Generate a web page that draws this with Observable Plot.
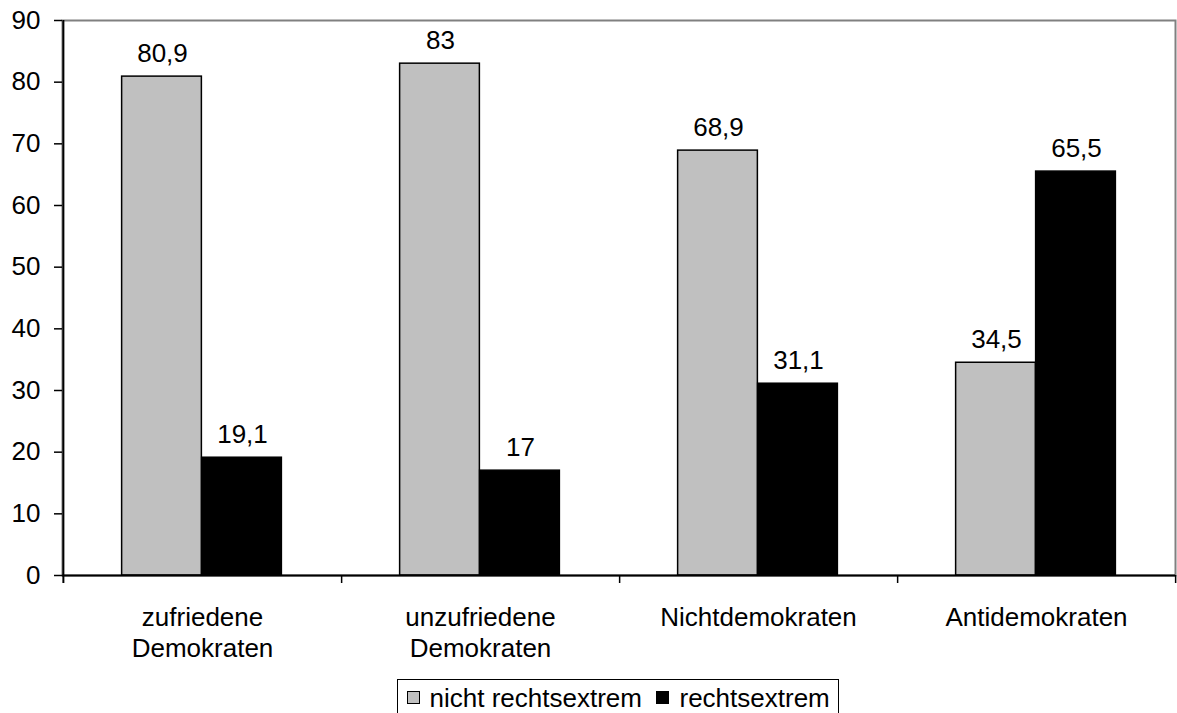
<!DOCTYPE html>
<html>
<head>
<meta charset="utf-8">
<script src="https://cdn.jsdelivr.net/npm/d3@7"></script>
<script src="https://cdn.jsdelivr.net/npm/@observablehq/plot@0.6"></script>
<style>
  html, body { margin: 0; padding: 0; background: #fff; }
  #wrap { position: relative; width: 1177px; height: 713px; overflow: hidden; font-family: "Liberation Sans", Arial, sans-serif; color: #000; }
  #wrap svg { display: block; }
  #legend { position: absolute; left: 397px; top: 679px; width: 442px; height: 60px; border: 1.5px solid #000; box-sizing: border-box; background: #fff; }
  #legend .sw { position: absolute; width: 13px; height: 13px; box-sizing: border-box; border: 1px solid #000; top: 11px; }
  #legend .lb { position: absolute; top: 8px; font-size: 26px; line-height: 20px; white-space: nowrap; }
</style>
</head>
<body>
<div id="wrap"></div>
<script>
// ---- data ----
const categories = ["zufriedene\nDemokraten", "unzufriedene\nDemokraten", "Nichtdemokraten", "Antidemokraten"];
const series = ["nicht rechtsextrem", "rechtsextrem"];
const nichtRechtsextrem = [80.9, 83, 68.9, 34.5];
const rechtsextrem = [19.1, 17, 31.1, 65.5];
const yTicks = [0, 10, 20, 30, 40, 50, 60, 70, 80, 90];
const seriesColors = ["#C0C0C0", "#000000"];

const rows = [];
categories.forEach((c, i) => {
  rows.push({category: c, series: series[0], value: nichtRechtsextrem[i]});
  rows.push({category: c, series: series[1], value: rechtsextrem[i]});
});
const fmt = v => String(v).replace(".", ",");
const half = 1113 / 8; // half band width in px (plot width 1113 / 4 bands / 2)
const barW = 80;

const chart = Plot.plot({
  width: 1177,
  height: 670,
  marginLeft: 62,
  marginRight: 2,
  marginTop: 20,
  marginBottom: 95,
  style: {fontFamily: "'Liberation Sans', Arial, sans-serif", fontSize: "26px", color: "#000", background: "#fff", overflow: "visible"},
  x: {domain: categories, padding: 0},
  y: {domain: [0, 90]},
  color: {domain: series, range: seriesColors},
  marks: [
    Plot.frame({stroke: "#808080", strokeWidth: 2}),
    Plot.barY(rows.filter(d => d.series === series[0]), {
      x: "category", y: "value", fill: "series", stroke: "#000", strokeWidth: 1.5,
      insetLeft: half - barW - 0.5, insetRight: half + 0.5
    }),
    Plot.barY(rows.filter(d => d.series === series[1]), {
      x: "category", y: "value", fill: "series", stroke: "#000", strokeWidth: 1.5,
      insetLeft: half - 0.5, insetRight: half - barW + 0.5
    }),
    Plot.text(rows.filter(d => d.series === series[0]), {
      x: "category", y: "value", text: d => fmt(d.value), dx: -barW / 2, dy: -15,
      lineAnchor: "bottom", fontSize: 26, fill: "#000"
    }),
    Plot.text(rows.filter(d => d.series === series[1]), {
      x: "category", y: "value", text: d => fmt(d.value), dx: barW / 2, dy: -15,
      lineAnchor: "bottom", fontSize: 26, fill: "#000"
    }),
    Plot.ruleY([0], {stroke: "#000", strokeWidth: 2}),
    // left axis line (extends below into first x tick)
    Plot.ruleX([categories[0]], {dx: -half, stroke: "#000", strokeWidth: 2, insetBottom: -8}),
    // category boundary ticks
    Plot.ruleX(categories, {dx: half, y1: 0, y2: 0, insetBottom: -8, stroke: "#000", strokeWidth: 1.5}),
    Plot.axisY({ticks: yTicks, tickSize: 8, tickPadding: 14, fontSize: 26, label: null, stroke: "#000", strokeWidth: 1.5}),
    Plot.axisX({tickSize: 0, tickPadding: 28.5, fontSize: 26, lineHeight: 1.2, label: null})
  ]
});

const wrap = document.getElementById("wrap");
wrap.appendChild(chart);

// legend
const legend = document.createElement("div");
legend.id = "legend";
const swLeft = [8.5, 257.5];
const lbLeft = [31.5, 281.5];
series.forEach((s, i) => {
  const sw = document.createElement("span");
  sw.className = "sw";
  sw.style.left = swLeft[i] + "px";
  sw.style.background = seriesColors[i];
  legend.appendChild(sw);
  const lb = document.createElement("span");
  lb.className = "lb";
  lb.style.left = lbLeft[i] + "px";
  lb.textContent = s;
  legend.appendChild(lb);
});
wrap.appendChild(legend);
</script>
</body>
</html>
